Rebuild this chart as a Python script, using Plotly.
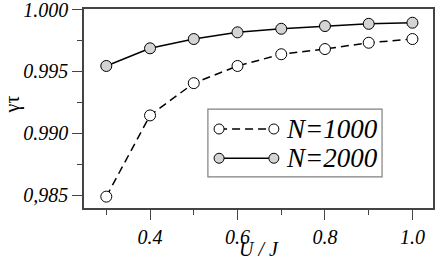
import plotly.graph_objects as go

U = [0.3, 0.4, 0.5, 0.6, 0.7, 0.8, 0.9, 1.0]
gamma_tau_N1000 = [0.98487, 0.99144, 0.99405, 0.99544, 0.99639, 0.99681, 0.99732, 0.99762]
gamma_tau_N2000 = [0.99544, 0.99687, 0.99762, 0.99816, 0.99845, 0.99867, 0.99885, 0.99894]
labels = ["N=1000", "N=2000"]
x_tickvals = [0.4, 0.6, 0.8, 1.0]
x_ticktext = ["0.4", "0.6", "0.8", "1.0"]
y_tickvals = [0.985, 0.990, 0.995, 1.000]
y_ticktext = ["0,985", "0.990", "0.995", "1.000"]
x_title = "U / J"
y_title = "γτ"

SERIF = "Liberation Serif"
FILL = "#d4d4d4"

fig = go.Figure()
fig.add_trace(go.Scatter(
    x=U, y=gamma_tau_N1000, mode="lines+markers", name=labels[0],
    line=dict(color="black", width=1.5, dash="8px,5px"),
    marker=dict(symbol="circle", size=11, color="white", line=dict(color="black", width=1)),
))
fig.add_trace(go.Scatter(
    x=U, y=gamma_tau_N2000, mode="lines+markers", name=labels[1],
    line=dict(color="black", width=1.5),
    marker=dict(symbol="circle", size=11, color=FILL, line=dict(color="black", width=1)),
))

axis_common = dict(
    showline=True, linecolor="#444444", linewidth=1.5, mirror=True,
    ticks="outside", ticklen=10, tickcolor="#444444", tickwidth=1.2,
    showgrid=False, zeroline=False, automargin=False, ticklabeloverflow="allow",
    tickfont=dict(family=SERIF, size=20, color="black"),
)

fig.update_xaxes(
    range=[0.249, 1.047], tickvals=x_tickvals, ticktext=["<i>%s</i>" % t for t in x_ticktext],
    minor=dict(tickvals=[0.3, 0.5, 0.7, 0.9], ticklen=5, ticks="outside", tickcolor="#444444", tickwidth=1.2),
    **axis_common,
)
fig.update_yaxes(
    range=[0.98395, 1.00005], tickvals=y_tickvals, ticktext=["<i>%s</i>" % t for t in y_ticktext],
    minor=dict(tickvals=[0.9875, 0.9925, 0.9975], ticklen=5, ticks="outside", tickcolor="#444444", tickwidth=1.2),
    **axis_common,
)

# custom legend (box, sample lines with end markers, labels)
shapes = [dict(type="rect", xref="paper", yref="paper", x0=0.355, x1=0.854, y0=0.156, y1=0.497,
               line=dict(color="#808080", width=1.2), fillcolor="white", layer="above")]
annotations = [
    dict(xref="paper", yref="paper", x=0.5, y=-0.205, xanchor="center", yanchor="middle",
         text="<i>%s</i>" % x_title, showarrow=False, font=dict(family=SERIF, size=20, color="black")),
    dict(xref="paper", yref="paper", x=-0.205, y=0.523, xanchor="center", yanchor="middle",
         text=y_title, textangle=-90, showarrow=False, font=dict(family=SERIF, size=20, color="black")),
]
rows = [(0.397, "8px,5px", "white", labels[0]), (0.250, "solid", FILL, labels[1])]
for yy, dash, fill, lab in rows:
    shapes.append(dict(type="line", xref="paper", yref="paper", x0=0.387, x1=0.544, y0=yy, y1=yy,
                       line=dict(color="black", width=1.5, dash=dash), layer="above"))
    for xx in (0.387, 0.544):
        shapes.append(dict(type="circle", xref="paper", yref="paper", xsizemode="pixel", ysizemode="pixel",
                           xanchor=xx, yanchor=yy, x0=-5, x1=5, y0=-5, y1=5,
                           fillcolor=fill, line=dict(color="black", width=1), layer="above"))
    annotations.append(dict(xref="paper", yref="paper", x=0.572, y=yy, xanchor="left", yanchor="middle",
                            text="<i>%s</i>" % lab, showarrow=False,
                            font=dict(family=SERIF, size=27, color="black")))

fig.update_layout(
    width=436, height=260,
    margin=dict(l=84, r=3, t=9, b=52),
    plot_bgcolor="white", paper_bgcolor="white",
    showlegend=False,
    shapes=shapes, annotations=annotations,
)

fig.write_html("out.html", config={"displayModeBar": False},
               post_script="document.body.style.margin='0';document.body.style.overflow='hidden';")
